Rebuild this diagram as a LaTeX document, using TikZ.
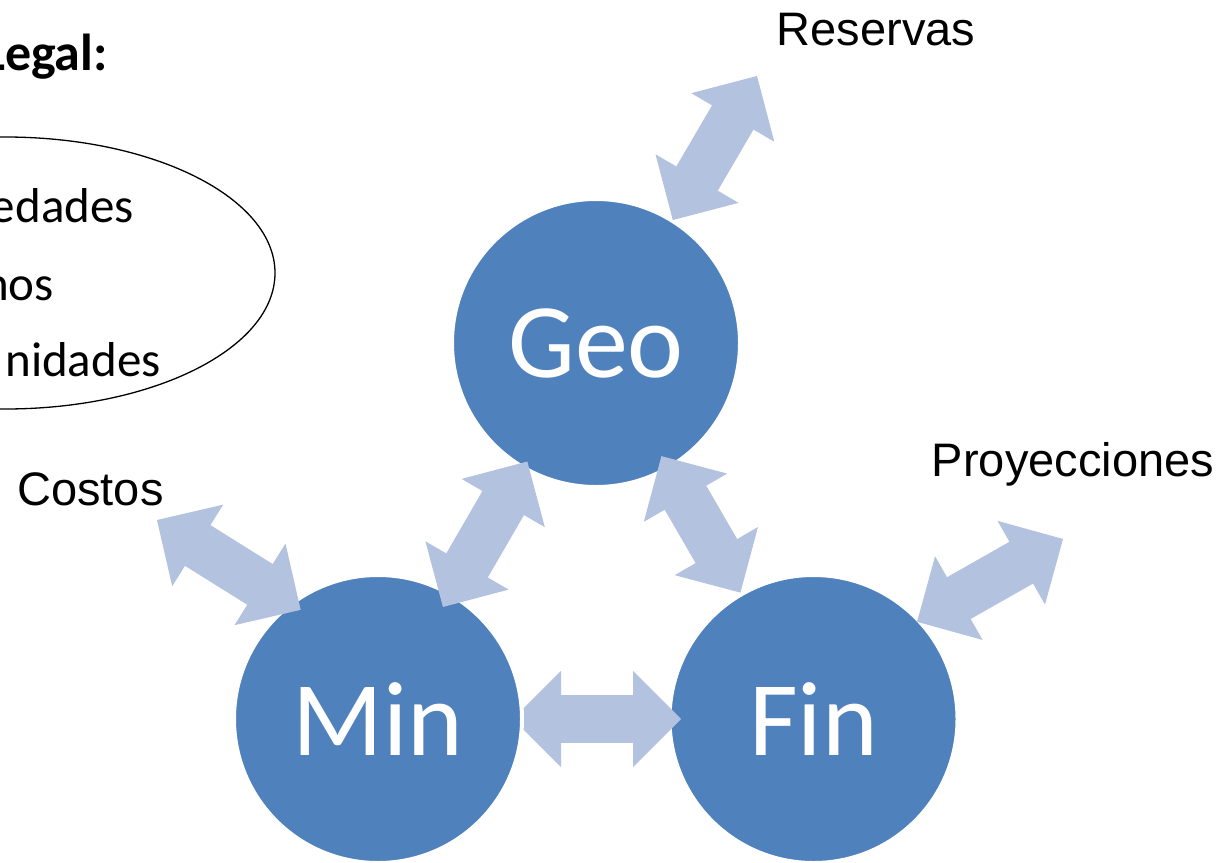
\documentclass[tikz,border=0pt]{standalone}
\usepackage{fontspec}
\setmainfont{Carlito}
\newfontfamily\arialfont{Liberation Sans}
\usetikzlibrary{arrows.meta}
\definecolor{circblue}{RGB}{79,129,189}
\definecolor{linkblue}{RGB}{179,194,222}
\pgfdeclarelayer{back}
\pgfdeclarelayer{front}
\pgfsetlayers{back,main,front}
\tikzset{
  bubble/.style={circle, fill=circblue, draw=white, line width=4pt,
    minimum size=288pt, inner sep=0pt, outer sep=0pt, text=white,
    font=\fontsize{106}{106}\selectfont},
  link/.style={draw=linkblue, line width=48pt,
    {Triangle[length=48pt,width=96pt,line width=1pt]}-{Triangle[length=48pt,width=96pt,line width=1pt]}},
  tag/.style={inner sep=0pt, anchor=base, font=\arialfont\fontsize{47}{56}\selectfont},
  legaltxt/.style={inner sep=0pt, anchor=base east, font=\fontsize{49}{58}\selectfont},
}

\begin{document}
\begin{tikzpicture}[x=1pt, y=-1pt]
  \useasboundingbox (0,0) rectangle (1231,862);
  \clip (0,0) rectangle (1231,862);

  % Legal block, cut by the left edge
  \draw[line width=1.3pt] (5,273) ellipse [x radius=270, y radius=136];
  \node[legaltxt, font=\bfseries\fontsize{52}{60}\selectfont] (legal) at (108,70) {Legal:};
  \node[legaltxt] (item1) at (134,222) {edades};
  \node[legaltxt] (item2) at (54,300) {nos};
  \node[legaltxt] (item3) at (161,376) {nidades};

  % Three areas
  \node[bubble] (Geo) at (596,343) {Geo};
  \node[bubble] (Min) at (378,719) {Min};
  \begin{pgfonlayer}{back}
    \node[bubble] (Fin) at (813.5,719) {Fin};
    \draw[link, shorten <=-9pt, shorten >=-11.5pt] (Min) -- (Fin);
  \end{pgfonlayer}

  % Outer labels
  \node[tag] (reservas) at (876,45) {Reservas};
  \node[tag] (proy) at (1073,476) {Proyecciones};
  \node[tag] (costos) at (90.5,505) {Costos};
  \coordinate (restip) at (757,76);
  \coordinate (costip) at (157,520);
  \coordinate (protip) at (1063,539);

  % Links
  \begin{pgfonlayer}{front}
    \draw[link, shorten <=-7pt, shorten >=-14.5pt] (Geo) -- (Min);
    \draw[link, shorten <=-13.3pt, shorten >=2pt] (Geo) -- (Fin);
    \draw[link, shorten <=1pt] (Geo.58) -- (restip);
    \draw[link, shorten <=-11pt] (Min.127) -- (costip);
    \draw[link, shorten <=-2pt] (Fin.43) -- (protip);
  \end{pgfonlayer}
\end{tikzpicture}
\end{document}
